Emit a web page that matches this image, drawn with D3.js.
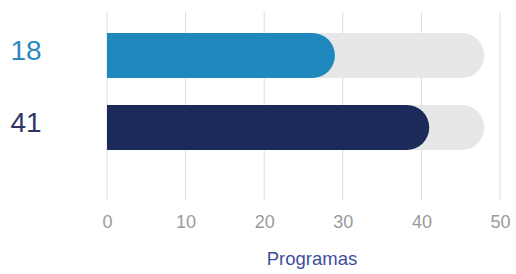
<!DOCTYPE html>
<html>
<head>
<meta charset="utf-8">
<script src="https://cdn.jsdelivr.net/npm/d3@7"></script>
<style>
    body { margin: 0; background: #fff; }
    svg { display: block; font-family: "Liberation Sans", Arial, sans-serif; }
</style>
</head>
<body>
<div id="chart"></div>
<script>
/* ===== DATA ===== */
const rowLabels = ['18', '41'];
const barValues = [29, 41];
const trackValues = [48, 48];
const tickValues = [0, 10, 20, 30, 40, 50];
const axisTitle = 'Programas';

const barColors = ['#1f88bd', '#1c2a5a'];
const labelColors = ['#2a8ac0', '#2e3566'];

const width = 516, height = 274;

const svg = d3.select('#chart')
    .append('svg')
    .attr('width', width)
    .attr('height', height);

const x = d3.scaleLinear().domain([0, 50]).range([107, 500]);
const y = d3.scaleBand()
    .domain(d3.range(rowLabels.length))
    .range([33, 150])
    .paddingInner(0.375)
    .paddingOuter(0);

// Grid lines
svg.append('g')
    .selectAll('line')
    .data(tickValues)
    .enter()
    .append('line')
    .attr('x1', d => x(d))
    .attr('x2', d => x(d))
    .attr('y1', 12)
    .attr('y2', 200)
    .attr('stroke', '#dcdcdc')
    .attr('stroke-width', 1);

// Rounded-right bar path
function roundedBar(x0, x1, yTop, h) {
    const r = h / 2;
    const xe = Math.max(x0, x1 - r);
    return `M${x0},${yTop} H${xe} A${r},${r} 0 0 1 ${xe},${yTop + h} H${x0} Z`;
}

const bh = y.bandwidth();

// Track (background) bars
svg.append('g')
    .selectAll('path')
    .data(trackValues)
    .enter()
    .append('path')
    .attr('d', (d, i) => roundedBar(x(0), x(d), y(i), bh))
    .attr('fill', '#e6e7e9');

// Value bars
svg.append('g')
    .selectAll('path')
    .data(barValues)
    .enter()
    .append('path')
    .attr('d', (d, i) => roundedBar(x(0), x(d), y(i), bh))
    .attr('fill', (d, i) => barColors[i]);

// Row labels (sit a bit above the bar centre)
svg.append('g')
    .selectAll('text')
    .data(rowLabels)
    .enter()
    .append('text')
    .attr('x', 26)
    .attr('y', (d, i) => y(i) + bh / 2 - 6)
    .attr('dy', '0.36em')
    .attr('text-anchor', 'middle')
    .attr('font-size', 28)
    .attr('fill', (d, i) => labelColors[i])
    .text(d => d);

// Axis
const axis = d3.axisBottom(x).tickValues(tickValues).tickSize(0).tickPadding(0);
const axisG = svg.append('g')
    .attr('transform', 'translate(0,215)')
    .call(axis);
axisG.select('.domain').remove();
axisG.selectAll('text')
    .attr('font-size', 18)
    .attr('fill', '#9a9a9a')
    .attr('font-family', '"Liberation Sans", Arial, sans-serif');

// Axis title
svg.append('text')
    .attr('x', 312)
    .attr('y', 265)
    .attr('text-anchor', 'middle')
    .attr('font-size', 18.5)
    .attr('fill', '#3d4e9c')
    .text(axisTitle);
</script>
</body>
</html>
